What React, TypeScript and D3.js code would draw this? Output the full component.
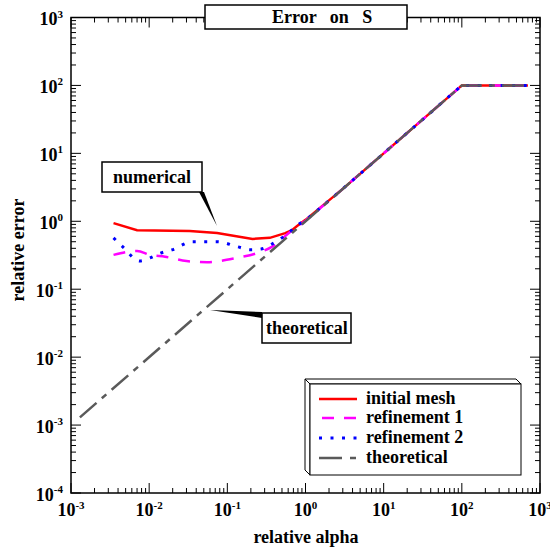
import React from "react";
import * as d3 from "d3";

// series (relative alpha -> relative error)
const initialX = [0.0035, 0.007, 0.033, 0.074, 0.21, 0.35, 0.55, 0.67, 0.78, 1, 3, 10, 100, 700];
const initialY = [0.94, 0.74, 0.72, 0.67, 0.55, 0.57, 0.67, 0.74, 0.85, 1.05, 3, 10, 100, 100];

const ref1X = [0.0035, 0.007, 0.0103, 0.016, 0.03, 0.055, 0.134, 0.24, 0.37, 0.63, 1, 3, 10, 100, 700];
const ref1Y = [0.32, 0.366, 0.32, 0.3, 0.26, 0.25, 0.29, 0.34, 0.42, 0.69, 1.02, 3, 10, 100, 100];

const ref2X = [0.0035, 0.0046, 0.0076, 0.0103, 0.014, 0.0196, 0.036, 0.074, 0.137, 0.195, 0.27, 0.37, 0.5, 0.65, 0.83, 1, 3, 10, 100, 700];
const ref2Y = [0.57, 0.42, 0.26, 0.29, 0.34, 0.38, 0.5, 0.5, 0.42, 0.38, 0.39, 0.46, 0.57, 0.72, 0.91, 1.03, 3, 10, 100, 100];

const theoryX = [0.0013, 100, 700];
const theoryY = [0.0013, 100, 100];

const xExps = [-3, -2, -1, 0, 1, 2, 3];
const yExps = [-4, -3, -2, -1, 0, 1, 2, 3];

const legendNames = ["initial mesh", "refinement 1", "refinement 2", "theoretical"];

const FONT = "'Liberation Serif', 'Times New Roman', serif";

const series = [
  { xs: initialX, ys: initialY, color: "#ff0000", dash: "none", curve: d3.curveLinear },
  { xs: ref1X, ys: ref1Y, color: "#ff00ff", dash: "12,10", curve: d3.curveMonotoneX },
  { xs: ref2X, ys: ref2Y, color: "#0000ff", dash: "3,8.5", curve: d3.curveMonotoneX },
  { xs: theoryX, ys: theoryY, color: "#5a5a5a", dash: "22,7,6,7", curve: d3.curveLinear },
];

export default function App() {
  const left = 71, right = 540, top = 17.5, bottom = 493;
  const x = d3.scaleLog().domain([1e-3, 1e3]).range([left, right]);
  const y = d3.scaleLog().domain([1e-4, 1e3]).range([bottom, top]);

  const line = (curve: any) =>
    d3
      .line<[number, number]>()
      .x((d) => x(d[0]))
      .y((d) => y(d[1]))
      .curve(curve);

  // smooth part below alpha = 1, straight segments above it
  const pathFor = (s: (typeof series)[number]) => {
    const pts = s.xs.map((v, j) => [v, s.ys[j]] as [number, number]);
    const head = pts.filter((p) => p[0] <= 1);
    const tail = pts.filter((p) => p[0] >= 1);
    if (head.length < 2) return line(d3.curveLinear)(pts) || "";
    const a = line(s.curve)(head) || "";
    const b = (line(d3.curveLinear)(tail) || "").replace(/^M/, "L");
    return a + b;
  };

  const xMinor: number[] = [];
  xExps.slice(0, -1).forEach((e) => {
    for (let k = 2; k <= 9; k++) xMinor.push(k * Math.pow(10, e));
  });
  const yMinor: number[] = [];
  yExps.slice(0, -1).forEach((e) => {
    for (let k = 2; k <= 9; k++) yMinor.push(k * Math.pow(10, e));
  });

  const legendY = [399, 418, 438, 458];

  return (
    <svg
      width={550}
      height={550}
      style={{ position: "absolute", left: 0, top: 0, background: "#fff" }}
      fontFamily={FONT}
      fontWeight="bold"
    >
      <rect x={0} y={0} width={550} height={550} fill="#fff" />

      {/* ticks */}
      <g stroke="#000" strokeWidth={1}>
        {xExps.map((e) => {
          const px = x(Math.pow(10, e));
          return (
            <g key={"xm" + e}>
              <line x1={px} x2={px} y1={bottom} y2={bottom - 10} />
              <line x1={px} x2={px} y1={top} y2={top + 10} />
            </g>
          );
        })}
        {xMinor.map((v, i) => {
          const px = x(v);
          return (
            <g key={"xn" + i}>
              <line x1={px} x2={px} y1={bottom} y2={bottom - 5} />
              <line x1={px} x2={px} y1={top} y2={top + 5} />
            </g>
          );
        })}
        {yExps.map((e) => {
          const py = y(Math.pow(10, e));
          return (
            <g key={"ym" + e}>
              <line x1={left} x2={left + 10} y1={py} y2={py} />
              <line x1={right} x2={right - 10} y1={py} y2={py} />
            </g>
          );
        })}
        {yMinor.map((v, i) => {
          const py = y(v);
          return (
            <g key={"yn" + i}>
              <line x1={left} x2={left + 5} y1={py} y2={py} />
              <line x1={right} x2={right - 5} y1={py} y2={py} />
            </g>
          );
        })}
      </g>
      <rect x={left} y={top} width={right - left} height={bottom - top} fill="none" stroke="#000" strokeWidth={1.5} />

      {/* tick labels */}
      {xExps.map((e) => (
        <text key={"xl" + e} x={x(Math.pow(10, e))} y={516} textAnchor="middle" fontSize={18}>
          10
          <tspan fontSize={11} dy={-7.5}>{e}</tspan>
        </text>
      ))}
      {yExps.map((e) => (
        <text key={"yl" + e} x={63} y={y(Math.pow(10, e)) + 7.5} textAnchor="end" fontSize={18}>
          10
          <tspan fontSize={11} dy={-7.5}>{e}</tspan>
        </text>
      ))}

      {/* axis titles */}
      <text x={306} y={543} textAnchor="middle" fontSize={18}>relative alpha</text>
      <text transform="translate(24,250) rotate(-90)" textAnchor="middle" fontSize={18}>relative error</text>

      {/* data */}
      {series.map((s, i) => (
        <path
          key={"s" + i}
          d={pathFor(s)}
          fill="none"
          stroke={s.color}
          strokeWidth={i === 2 ? 3 : 2.5}
          strokeDasharray={s.dash}
        />
      ))}

      {/* title box */}
      <rect x={205} y={5} width={202} height={24} fill="#fff" stroke="#000" strokeWidth={1.5} />
      <text x={272} y={23} fontSize={18} style={{ whiteSpace: "pre" }}>{"Error   on   S"}</text>

      {/* numerical annotation */}
      <polygon points="199,192 204,192 217,226" fill="#000" />
      <rect x={102} y={162} width={100} height={30} fill="#fff" stroke="#000" strokeWidth={1.5} />
      <text x={113} y={183} fontSize={18}>numerical</text>

      {/* theoretical annotation */}
      <polygon points="210,310 262,312 262,318" fill="#000" />
      <rect x={262} y={313} width={89} height={30} fill="#fff" stroke="#000" strokeWidth={1.5} />
      <text x={266} y={334} fontSize={18}>theoretical</text>

      {/* legend */}
      <polygon points="305,379 516,379 521,384 310,384" fill="#fff" stroke="#000" strokeWidth={1} />
      <polygon points="305,379 310,384 310,475 305,470" fill="#fff" stroke="#000" strokeWidth={1} />
      <rect x={310} y={384} width={211} height={91} fill="#fff" stroke="#000" strokeWidth={1} />
      {series.map((s, i) => (
        <g key={"lg" + i}>
          <line
            x1={i === 1 ? 322 : 319}
            x2={357}
            y1={legendY[i]}
            y2={legendY[i]}
            stroke={s.color}
            strokeWidth={i === 2 ? 3 : 2.5}
            strokeDasharray={i === 3 ? "23,8,6,8" : s.dash}
          />
          <text x={366} y={legendY[i] + 5} fontSize={18}>{legendNames[i]}</text>
        </g>
      ))}
    </svg>
  );
}
